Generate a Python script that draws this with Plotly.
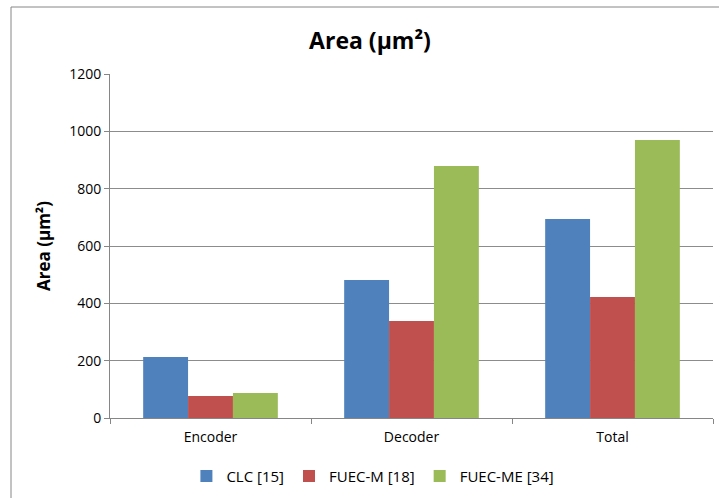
import plotly.graph_objects as go

categories = ["Encoder", "Decoder", "Total"]
series_names = ["CLC [15]", "FUEC-M [18]", "FUEC-ME [34]"]
clc = [213, 481, 694]
fuec_m = [77, 338, 422]
fuec_me = [87, 879, 970]
colors = ["#4F81BD", "#C0504D", "#9BBB59"]
y_ticks = [0, 200, 400, 600, 800, 1000, 1200]

FONT = "Open Sans, Calibri, Carlito, sans-serif"

fig = go.Figure()
for name, vals, col in zip(series_names, [clc, fuec_m, fuec_me], colors):
    fig.add_trace(go.Bar(x=categories, y=vals, name=name,
                         marker=dict(color=col, line=dict(width=0))))

fig.update_layout(
    width=719, height=498,
    margin=dict(l=110, r=6, t=74, b=80, autoexpand=False),
    paper_bgcolor="white", plot_bgcolor="white",
    barmode="group", bargap=0.33, bargroupgap=0,
    font=dict(family=FONT, size=13, color="black"),
    title=dict(text="<b>Area (µm²)</b>", x=370 / 719, xanchor="center",
               y=1 - 41 / 498, yanchor="middle",
               font=dict(family=FONT, size=23, color="black")),
    showlegend=True,
    legend=dict(orientation="h", x=0.436, xanchor="center", y=-0.169, yanchor="middle",
                font=dict(family=FONT, size=15), itemwidth=30, traceorder="normal"),
    xaxis=dict(type="category", tickson="boundaries", ticks="outside", ticklen=5,
               tickcolor="#868686", showline=True, linecolor="#868686", linewidth=1,
               showgrid=False, tickfont=dict(family=FONT, size=14), automargin=False,
               ticklabelstandoff=6),
    yaxis=dict(range=[0, 1200], tickvals=y_ticks, ticks="outside", ticklen=5,
               tickcolor="#868686", showline=True, linecolor="#868686", linewidth=1,
               showgrid=True, gridcolor="#8C8C8C", gridwidth=1, zeroline=False,
               tickfont=dict(family=FONT, size=14), automargin=False,
               title=dict(text="<b>Area (µm²)</b>", standoff=14,
                          font=dict(family=FONT, size=17))),
)

fig.add_shape(type="rect", xref="paper", yref="paper",
              x0=(11 - 110) / 603, x1=(724 - 110) / 603,
              y0=(418 - 503) / 344, y1=(418 - 7) / 344,
              line=dict(color="#868686", width=1), fillcolor="rgba(0,0,0,0)", layer="below")

fig.write_html("out.html", config={"displayModeBar": False},
               post_script="document.body.style.margin='0';")
